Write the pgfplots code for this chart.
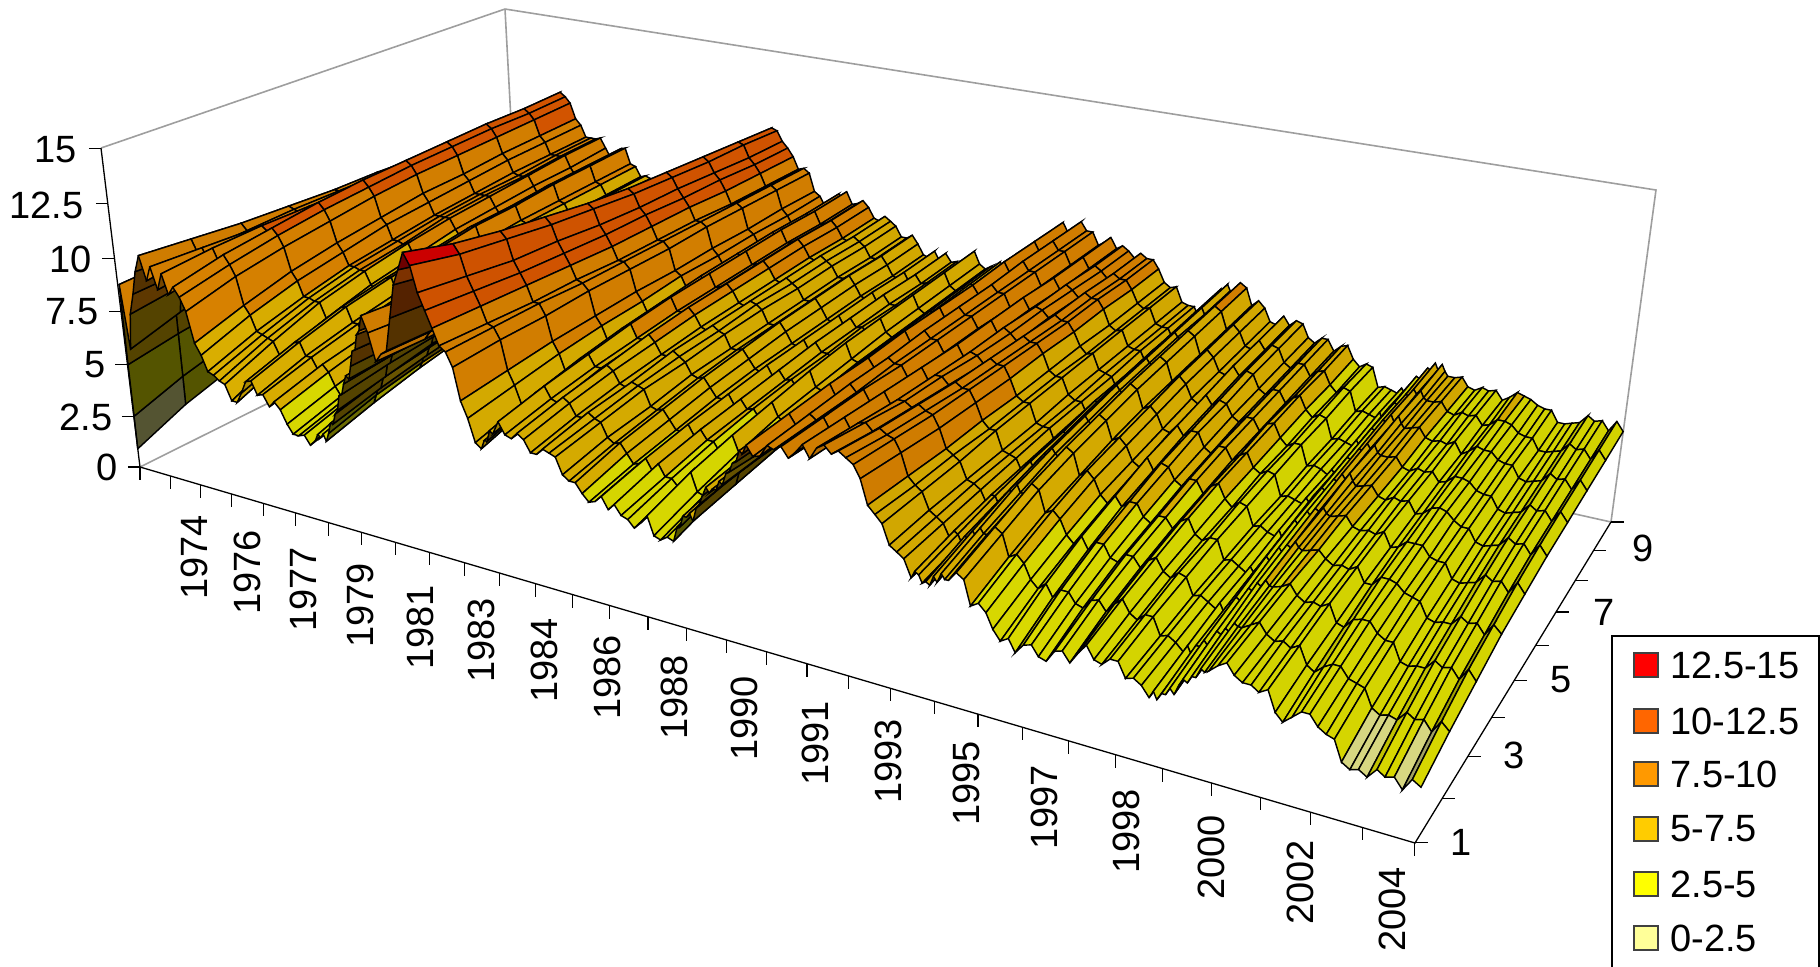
\documentclass[border=0pt]{standalone}
\usepackage{fontspec}
\setmainfont{Liberation Sans}
\usepackage{pgfplots}
\usepackage{pgfplotstable}
\pgfplotsset{compat=1.18}

% Yield curves: one row per date, one column per maturity in years.
\pgfplotstableread{
t m1 m2 m3 m4 m5 m6 m7 m8 m9 m10
1972.70 0.9 1.9 2.6 3.2 3.7 4.0 4.3 4.5 4.7 4.9
1972.71 2.5 3.3 3.9 4.3 4.7 5.0 5.2 5.4 5.5 5.6
1972.72 5.0 5.4 5.7 6.0 6.2 6.4 6.5 6.6 6.7 6.8
1972.735 7.5 7.6 7.7 7.8 7.9 7.9 8.0 8.0 8.0 8.1
1972.75 8.8 8.9 8.9 8.9 8.9 9.0 9.0 9.0 9.0 9.0
1972.87 5.8 6.5 7.1 7.5 7.8 8.1 8.2 8.4 8.5 8.6
1973.00 7.5 7.8 8.1 8.2 8.4 8.5 8.5 8.6 8.7 8.7
1973.17 8.5 8.6 8.7 8.8 8.9 8.9 8.9 9.0 9.0 9.0
1973.33 9.6 9.5 9.5 9.4 9.4 9.4 9.3 9.3 9.3 9.3
1973.50 10.4 10.2 10.0 9.9 9.8 9.8 9.7 9.7 9.6 9.6
1973.67 9.3 9.6 9.7 9.8 9.8 9.8 9.8 9.8 9.8 9.8
1973.83 10.0 9.9 9.8 9.7 9.6 9.6 9.6 9.6 9.6 9.6
1974.00 9.0 9.3 9.5 9.6 9.7 9.8 9.8 9.8 9.8 9.8
1974.17 9.8 10.0 10.1 10.1 10.1 10.2 10.2 10.2 10.2 10.2
1974.33 8.9 9.4 9.9 10.2 10.3 10.4 10.5 10.5 10.6 10.6
1974.50 9.3 9.8 10.1 10.4 10.6 10.7 10.8 10.9 10.9 11.0
1974.67 8.9 9.4 9.8 10.1 10.3 10.5 10.6 10.7 10.7 10.8
1974.83 8.3 8.9 9.3 9.6 9.9 10.1 10.2 10.3 10.4 10.5
1975.00 6.9 7.6 8.2 8.6 8.9 9.2 9.3 9.5 9.6 9.7
1975.17 6.4 7.2 7.8 8.2 8.6 8.8 9.0 9.2 9.3 9.4
1975.33 5.7 6.5 7.1 7.6 7.9 8.2 8.4 8.6 8.7 8.8
1975.50 5.6 6.4 7.1 7.6 7.9 8.2 8.4 8.5 8.7 8.8
1975.67 5.4 6.3 7.0 7.5 7.8 8.2 8.4 8.5 8.7 8.8
1975.83 5.3 6.2 7.0 7.5 7.9 8.2 8.4 8.6 8.8 8.9
1976.00 4.6 5.6 6.3 6.9 7.3 7.7 7.9 8.1 8.2 8.4
1976.17 4.6 5.5 6.1 6.6 7.0 7.3 7.5 7.6 7.8 7.9
1976.33 5.1 5.9 6.5 6.9 7.3 7.5 7.7 7.9 8.0 8.1
1976.50 5.7 6.4 7.0 7.4 7.7 8.0 8.1 8.3 8.4 8.5
1976.67 5.8 6.5 7.1 7.5 7.8 8.1 8.2 8.4 8.5 8.6
1976.83 5.2 5.9 6.4 6.8 7.1 7.3 7.5 7.6 7.7 7.8
1977.00 5.3 5.9 6.4 6.8 7.0 7.2 7.4 7.5 7.6 7.7
1977.17 4.8 5.4 5.9 6.3 6.5 6.7 6.9 7.0 7.1 7.2
1977.33 5.1 5.7 6.1 6.4 6.7 6.9 7.0 7.1 7.2 7.3
1977.50 4.8 5.4 5.9 6.3 6.5 6.7 6.9 7.0 7.1 7.2
1977.67 4.2 4.8 5.3 5.6 5.9 6.1 6.2 6.3 6.4 6.5
1977.83 3.8 4.4 4.8 5.1 5.4 5.6 5.7 5.8 5.9 6.0
1978.00 3.8 4.4 4.8 5.1 5.4 5.6 5.7 5.8 5.9 6.0
1978.17 3.9 4.5 4.9 5.2 5.5 5.7 5.8 5.9 6.0 6.1
1978.33 3.5 4.1 4.6 5.0 5.2 5.4 5.6 5.7 5.8 5.9
1978.50 3.8 4.5 5.0 5.4 5.7 6.0 6.1 6.3 6.4 6.5
1978.58 4.1 4.8 5.3 5.7 6.0 6.2 6.4 6.5 6.6 6.7
1978.67 4.0 4.6 5.1 5.5 5.7 5.9 6.1 6.2 6.3 6.4
1978.75 4.2 4.8 5.3 5.6 5.9 6.1 6.2 6.4 6.5 6.6
1978.83 3.9 4.5 5.0 5.4 5.6 5.8 6.0 6.1 6.2 6.3
1978.92 4.3 4.9 5.3 5.6 5.9 6.0 6.2 6.3 6.4 6.5
1979.00 4.8 5.3 5.8 6.1 6.3 6.5 6.6 6.7 6.8 6.9
1979.08 4.8 5.3 5.7 6.0 6.2 6.4 6.5 6.6 6.7 6.8
1979.17 5.3 5.8 6.1 6.4 6.6 6.8 6.9 7.0 7.0 7.1
1979.25 5.5 5.9 6.3 6.5 6.7 6.9 7.0 7.0 7.1 7.1
1979.33 6.2 6.5 6.8 7.0 7.1 7.3 7.3 7.4 7.4 7.5
1979.42 6.3 6.6 6.8 7.0 7.2 7.3 7.4 7.4 7.5 7.5
1979.50 6.8 7.0 7.2 7.3 7.4 7.5 7.6 7.6 7.7 7.7
1979.58 7.2 7.4 7.5 7.6 7.6 7.7 7.7 7.8 7.8 7.8
1979.67 7.1 7.2 7.2 7.3 7.3 7.3 7.4 7.4 7.4 7.4
1979.75 7.7 7.7 7.7 7.7 7.7 7.7 7.7 7.7 7.7 7.7
1979.83 8.4 8.3 8.2 8.2 8.1 8.1 8.1 8.0 8.0 8.0
1979.92 8.5 8.4 8.3 8.2 8.1 8.1 8.1 8.0 8.0 8.0
1980.00 9.2 9.0 8.8 8.7 8.6 8.6 8.5 8.5 8.4 8.4
1980.08 9.4 9.2 9.0 8.9 8.8 8.8 8.7 8.7 8.6 8.6
1980.17 10.1 9.9 9.7 9.6 9.5 9.5 9.4 9.4 9.3 9.3
1980.33 9.4 9.2 9.0 8.9 8.8 8.7 8.6 8.6 8.5 8.5
1980.50 8.2 8.1 8.1 8.0 8.0 8.0 7.9 7.9 7.9 7.9
1980.67 8.6 8.5 8.5 8.4 8.4 8.4 8.3 8.3 8.3 8.3
1980.83 8.8 8.7 8.7 8.6 8.6 8.6 8.5 8.5 8.5 8.5
1981.00 10.3 10.1 9.9 9.8 9.7 9.6 9.5 9.5 9.4 9.4
1981.17 11.8 11.4 11.1 10.8 10.6 10.5 10.4 10.3 10.3 10.2
1981.33 12.5 12.0 11.6 11.3 11.1 10.9 10.8 10.7 10.6 10.5
1981.50 13.3 12.7 12.3 12.0 11.7 11.5 11.4 11.3 11.2 11.1
1981.67 12.8 12.3 12.0 11.7 11.5 11.3 11.2 11.1 11.1 11.0
1981.83 11.7 11.4 11.1 11.0 10.8 10.7 10.7 10.6 10.5 10.5
1982.00 11.0 10.8 10.6 10.5 10.4 10.4 10.3 10.3 10.2 10.2
1982.17 10.3 10.2 10.1 10.0 9.9 9.9 9.9 9.8 9.8 9.8
1982.33 9.6 9.5 9.4 9.4 9.3 9.3 9.3 9.2 9.2 9.2
1982.50 9.4 9.4 9.4 9.3 9.3 9.3 9.3 9.3 9.3 9.3
1982.67 8.8 8.9 8.9 9.0 9.0 9.0 9.1 9.1 9.1 9.1
1982.83 7.4 7.6 7.8 7.9 8.0 8.0 8.1 8.1 8.2 8.2
1983.00 6.7 7.0 7.3 7.5 7.6 7.8 7.8 7.9 7.9 8.0
1983.17 5.7 6.2 6.5 6.8 7.0 7.2 7.3 7.4 7.4 7.5
1983.33 5.5 6.1 6.5 6.8 7.1 7.3 7.4 7.5 7.6 7.7
1983.42 5.9 6.4 6.8 7.1 7.3 7.5 7.6 7.7 7.8 7.9
1983.50 5.9 6.5 6.9 7.2 7.5 7.7 7.8 7.9 8.0 8.1
1983.58 6.4 6.9 7.3 7.6 7.8 8.0 8.1 8.2 8.2 8.3
1983.67 6.3 6.8 7.2 7.5 7.7 7.8 8.0 8.0 8.1 8.2
1983.83 6.9 7.3 7.6 7.9 8.1 8.2 8.3 8.4 8.4 8.5
1984.00 6.4 6.8 7.1 7.3 7.5 7.6 7.7 7.8 7.8 7.9
1984.17 6.3 6.7 7.1 7.3 7.5 7.7 7.8 7.9 7.9 8.0
1984.33 6.6 7.0 7.3 7.6 7.8 7.9 8.0 8.1 8.1 8.2
1984.50 6.4 6.8 7.1 7.3 7.5 7.6 7.7 7.8 7.8 7.9
1984.67 5.9 6.3 6.6 6.8 7.0 7.1 7.2 7.3 7.3 7.4
1984.83 5.9 6.3 6.5 6.8 6.9 7.0 7.1 7.2 7.2 7.3
1985.00 6.2 6.6 6.8 7.1 7.2 7.3 7.4 7.5 7.5 7.6
1985.17 6.1 6.4 6.7 6.9 7.0 7.2 7.2 7.3 7.3 7.4
1985.33 6.0 6.3 6.6 6.7 6.9 7.0 7.0 7.1 7.1 7.2
1985.50 5.3 5.7 5.9 6.2 6.3 6.4 6.5 6.6 6.6 6.7
1985.67 5.1 5.5 5.8 6.1 6.3 6.4 6.5 6.6 6.6 6.7
1985.83 5.1 5.6 5.9 6.2 6.4 6.6 6.7 6.8 6.8 6.9
1986.00 4.7 5.2 5.5 5.8 6.0 6.2 6.3 6.4 6.4 6.5
1986.17 4.4 4.8 5.1 5.4 5.6 5.7 5.8 5.9 5.9 6.0
1986.33 4.5 4.9 5.1 5.4 5.5 5.6 5.7 5.8 5.8 5.9
1986.50 4.8 5.2 5.5 5.7 5.9 6.0 6.1 6.2 6.2 6.3
1986.67 4.3 4.7 5.0 5.2 5.4 5.5 5.6 5.7 5.7 5.8
1986.83 4.6 5.1 5.4 5.6 5.8 6.0 6.1 6.2 6.2 6.3
1987.00 4.2 4.6 5.0 5.2 5.4 5.6 5.7 5.8 5.8 5.9
1987.17 4.1 4.6 5.0 5.3 5.5 5.6 5.8 5.8 5.9 6.0
1987.33 3.8 4.3 4.6 4.9 5.1 5.3 5.4 5.5 5.5 5.6
1987.50 4.1 4.6 5.1 5.4 5.6 5.8 5.9 6.0 6.1 6.2
1987.67 4.5 5.1 5.5 5.8 6.1 6.3 6.4 6.5 6.6 6.7
1987.83 3.7 4.3 4.8 5.2 5.4 5.6 5.8 5.9 6.0 6.1
1988.00 3.6 4.2 4.7 5.0 5.3 5.5 5.6 5.7 5.8 5.9
1988.17 3.8 4.4 4.9 5.2 5.5 5.7 5.8 5.9 6.0 6.1
1988.33 3.7 4.3 4.8 5.1 5.4 5.6 5.7 5.8 5.9 6.0
1988.42 4.3 4.9 5.3 5.6 5.8 6.0 6.1 6.2 6.3 6.4
1988.50 4.4 4.9 5.3 5.6 5.8 5.9 6.1 6.1 6.2 6.3
1988.58 4.9 5.3 5.6 5.9 6.0 6.2 6.3 6.3 6.4 6.5
1988.67 4.9 5.3 5.5 5.8 5.9 6.0 6.1 6.2 6.2 6.3
1988.75 5.1 5.4 5.7 5.9 6.0 6.1 6.2 6.3 6.3 6.4
1988.83 4.8 5.1 5.4 5.6 5.7 5.9 5.9 6.0 6.0 6.1
1988.92 5.4 5.7 5.9 6.0 6.1 6.2 6.3 6.3 6.4 6.4
1989.00 5.6 5.8 6.0 6.1 6.2 6.3 6.4 6.4 6.5 6.5
1989.08 6.0 6.2 6.3 6.4 6.5 6.6 6.6 6.7 6.7 6.7
1989.17 6.4 6.6 6.7 6.8 6.9 7.0 7.0 7.0 7.1 7.1
1989.25 6.2 6.3 6.4 6.5 6.6 6.7 6.7 6.7 6.8 6.8
1989.33 6.4 6.5 6.6 6.7 6.8 6.8 6.8 6.9 6.9 6.9
1989.42 6.4 6.5 6.5 6.6 6.6 6.7 6.7 6.7 6.7 6.7
1989.50 6.8 6.9 6.9 7.0 7.0 7.0 7.1 7.1 7.1 7.1
1989.58 6.7 6.8 6.8 6.8 6.8 6.9 6.9 6.9 6.9 6.9
1989.67 7.2 7.2 7.2 7.1 7.1 7.1 7.1 7.1 7.1 7.1
1989.75 7.3 7.2 7.2 7.2 7.2 7.2 7.1 7.1 7.1 7.1
1989.83 7.7 7.6 7.6 7.5 7.5 7.5 7.4 7.4 7.4 7.4
1989.92 7.8 7.8 7.8 7.8 7.8 7.8 7.8 7.8 7.8 7.8
1990.00 8.3 8.3 8.3 8.4 8.4 8.4 8.4 8.4 8.4 8.4
1990.08 8.2 8.3 8.3 8.4 8.4 8.5 8.5 8.5 8.5 8.5
1990.17 8.6 8.7 8.8 8.8 8.9 8.9 8.9 9.0 9.0 9.0
1990.33 8.2 8.3 8.3 8.4 8.4 8.4 8.5 8.5 8.5 8.5
1990.50 8.3 8.4 8.5 8.6 8.7 8.7 8.7 8.8 8.8 8.8
1990.67 8.8 8.9 9.0 9.0 9.1 9.1 9.1 9.2 9.2 9.2
1990.83 8.7 8.7 8.7 8.8 8.8 8.8 8.8 8.8 8.8 8.8
1991.00 8.9 8.9 8.9 8.8 8.8 8.8 8.8 8.8 8.8 8.8
1991.17 8.5 8.4 8.4 8.3 8.3 8.3 8.2 8.2 8.2 8.2
1991.33 8.8 8.7 8.6 8.6 8.5 8.5 8.5 8.4 8.4 8.4
1991.50 9.2 9.1 9.0 8.9 8.8 8.8 8.8 8.7 8.7 8.7
1991.67 8.7 8.6 8.5 8.4 8.3 8.3 8.3 8.2 8.2 8.2
1991.83 9.2 9.0 8.8 8.7 8.6 8.6 8.5 8.5 8.4 8.4
1992.00 9.4 9.1 8.8 8.7 8.5 8.4 8.4 8.3 8.2 8.2
1992.17 9.1 8.8 8.6 8.4 8.2 8.1 8.1 8.0 7.9 7.9
1992.33 9.3 9.0 8.8 8.6 8.5 8.4 8.3 8.3 8.2 8.2
1992.50 9.1 8.8 8.6 8.4 8.3 8.2 8.1 8.1 8.0 8.0
1992.67 8.9 8.7 8.5 8.4 8.3 8.2 8.1 8.1 8.0 8.0
1992.83 8.4 8.2 8.0 7.9 7.8 7.8 7.7 7.7 7.6 7.6
1993.00 7.4 7.3 7.2 7.2 7.1 7.1 7.1 7.0 7.0 7.0
1993.17 7.1 7.0 7.0 6.9 6.9 6.9 6.8 6.8 6.8 6.8
1993.33 6.8 6.8 6.8 6.9 6.9 6.9 6.9 6.9 6.9 6.9
1993.50 6.0 6.1 6.1 6.1 6.1 6.2 6.2 6.2 6.2 6.2
1993.67 5.8 5.9 6.0 6.0 6.0 6.0 6.1 6.1 6.1 6.1
1993.83 5.6 5.7 5.8 5.9 6.0 6.0 6.0 6.1 6.1 6.1
1994.00 4.9 5.1 5.2 5.3 5.3 5.4 5.4 5.5 5.5 5.5
1994.08 5.2 5.5 5.7 5.8 5.9 6.0 6.0 6.1 6.1 6.2
1994.17 5.1 5.4 5.7 5.9 6.0 6.2 6.2 6.3 6.3 6.4
1994.25 4.8 5.1 5.4 5.7 5.8 6.0 6.1 6.1 6.2 6.2
1994.33 4.9 5.4 5.7 6.0 6.2 6.4 6.5 6.6 6.6 6.7
1994.42 4.8 5.3 5.6 5.9 6.2 6.3 6.4 6.5 6.6 6.6
1994.50 5.2 5.7 6.1 6.4 6.6 6.8 6.9 7.0 7.1 7.2
1994.58 5.0 5.5 5.9 6.2 6.5 6.6 6.8 6.8 6.9 7.0
1994.67 5.4 5.9 6.4 6.7 6.9 7.1 7.2 7.3 7.4 7.5
1994.75 5.2 5.7 6.1 6.5 6.7 6.9 7.0 7.1 7.1 7.2
1994.83 5.2 5.7 6.1 6.4 6.6 6.8 6.9 7.0 7.1 7.2
1995.00 5.6 6.1 6.6 6.9 7.1 7.3 7.4 7.5 7.6 7.7
1995.17 5.4 5.9 6.4 6.7 6.9 7.1 7.2 7.3 7.4 7.5
1995.33 4.4 5.0 5.5 5.8 6.1 6.3 6.4 6.5 6.6 6.7
1995.50 4.6 5.2 5.7 6.1 6.3 6.5 6.7 6.8 6.9 7.0
1995.67 4.3 4.9 5.4 5.8 6.0 6.2 6.4 6.5 6.6 6.7
1995.83 3.7 4.3 4.8 5.2 5.4 5.6 5.8 5.9 6.0 6.1
1996.00 3.3 4.0 4.5 4.9 5.2 5.5 5.6 5.8 5.9 6.0
1996.17 3.5 4.3 4.9 5.3 5.7 5.9 6.1 6.3 6.4 6.5
1996.33 3.0 3.8 4.4 4.9 5.2 5.5 5.7 5.9 6.0 6.1
1996.50 3.4 4.2 4.8 5.2 5.6 5.8 6.0 6.2 6.3 6.4
1996.67 3.5 4.2 4.8 5.2 5.5 5.8 5.9 6.1 6.2 6.3
1996.83 3.1 3.8 4.3 4.7 5.0 5.2 5.4 5.5 5.6 5.7
1997.00 3.0 3.7 4.2 4.5 4.8 5.0 5.2 5.3 5.4 5.5
1997.17 3.5 4.1 4.6 4.9 5.2 5.4 5.5 5.6 5.7 5.8
1997.33 3.6 4.2 4.6 4.9 5.2 5.4 5.5 5.6 5.7 5.8
1997.50 3.2 3.8 4.2 4.5 4.7 4.9 5.0 5.1 5.2 5.3
1997.67 3.7 4.2 4.6 4.9 5.1 5.2 5.4 5.4 5.5 5.6
1997.83 4.1 4.5 4.8 5.1 5.3 5.4 5.5 5.6 5.6 5.7
1998.00 3.6 4.0 4.3 4.5 4.7 4.8 4.9 5.0 5.0 5.1
1998.17 3.5 3.8 4.1 4.3 4.4 4.6 4.6 4.7 4.7 4.8
1998.33 3.8 4.1 4.4 4.5 4.7 4.8 4.8 4.9 5.0 5.0
1998.50 3.8 4.1 4.3 4.5 4.6 4.7 4.8 4.8 4.9 4.9
1998.67 3.2 3.4 3.6 3.7 3.8 3.8 3.9 3.9 4.0 4.0
1998.83 3.3 3.5 3.7 3.8 3.9 3.9 4.0 4.0 4.1 4.1
1999.00 3.1 3.3 3.5 3.6 3.7 3.8 3.9 3.9 4.0 4.0
1999.17 2.7 3.0 3.3 3.4 3.6 3.7 3.7 3.8 3.9 3.9
1999.25 3.0 3.3 3.6 3.7 3.9 4.0 4.0 4.1 4.2 4.2
1999.33 2.7 3.0 3.3 3.5 3.6 3.8 3.8 3.9 3.9 4.0
1999.42 3.0 3.4 3.6 3.8 4.0 4.2 4.2 4.3 4.4 4.4
1999.50 3.0 3.4 3.7 4.0 4.2 4.3 4.4 4.5 4.5 4.6
1999.58 3.3 3.7 4.0 4.3 4.5 4.6 4.7 4.8 4.8 4.9
1999.67 3.1 3.5 3.9 4.1 4.3 4.5 4.6 4.7 4.7 4.8
1999.75 3.5 3.9 4.2 4.5 4.7 4.8 4.9 5.0 5.0 5.1
1999.83 3.8 4.2 4.5 4.8 5.0 5.1 5.2 5.3 5.3 5.4
1999.92 3.7 4.1 4.4 4.6 4.8 5.0 5.1 5.1 5.2 5.3
2000.00 4.0 4.4 4.8 5.0 5.2 5.4 5.5 5.6 5.6 5.7
2000.08 4.0 4.3 4.7 4.9 5.1 5.2 5.3 5.3 5.4 5.4
2000.17 4.4 4.7 5.0 5.2 5.3 5.5 5.5 5.6 5.6 5.7
2000.25 4.3 4.6 4.8 5.0 5.1 5.2 5.2 5.3 5.3 5.4
2000.33 4.4 4.6 4.8 4.9 5.0 5.0 5.1 5.1 5.2 5.2
2000.50 4.7 4.8 4.9 5.0 5.1 5.1 5.1 5.2 5.2 5.2
2000.67 4.9 5.0 5.1 5.1 5.2 5.2 5.2 5.3 5.3 5.3
2000.83 4.5 4.6 4.7 4.8 4.8 4.8 4.8 4.9 4.9 4.9
2001.00 4.3 4.4 4.5 4.6 4.7 4.7 4.7 4.8 4.8 4.8
2001.17 4.3 4.5 4.6 4.7 4.8 4.9 4.9 4.9 5.0 5.0
2001.33 4.1 4.3 4.5 4.6 4.7 4.8 4.8 4.8 4.9 4.9
2001.50 4.3 4.5 4.7 4.8 4.9 4.9 4.9 5.0 5.0 5.0
2001.67 3.5 3.8 4.0 4.2 4.3 4.4 4.5 4.5 4.6 4.6
2001.83 3.2 3.6 3.9 4.2 4.4 4.5 4.6 4.7 4.7 4.8
2002.00 3.5 3.9 4.3 4.6 4.7 4.8 4.9 5.0 5.0 5.1
2002.17 3.8 4.1 4.4 4.6 4.7 4.9 4.9 4.9 5.0 5.0
2002.33 3.8 4.1 4.4 4.5 4.7 4.8 4.8 4.9 4.9 4.9
2002.50 3.4 3.7 4.0 4.2 4.3 4.5 4.5 4.6 4.6 4.7
2002.67 3.2 3.6 3.8 4.1 4.2 4.3 4.4 4.5 4.5 4.6
2002.83 3.1 3.5 3.8 4.0 4.2 4.3 4.4 4.5 4.5 4.6
2003.00 2.3 2.8 3.1 3.4 3.6 3.8 3.9 4.0 4.0 4.1
2003.17 2.1 2.6 3.0 3.3 3.5 3.7 3.8 3.9 4.0 4.1
2003.33 2.2 2.7 3.1 3.4 3.6 3.8 3.9 4.0 4.1 4.2
2003.50 2.0 2.6 3.1 3.4 3.7 3.9 4.0 4.1 4.2 4.3
2003.67 2.4 3.0 3.5 3.8 4.1 4.3 4.4 4.5 4.6 4.7
2003.83 2.2 2.8 3.3 3.6 3.9 4.1 4.2 4.3 4.4 4.5
2004.00 2.3 2.9 3.4 3.7 4.0 4.2 4.3 4.4 4.5 4.6
2004.17 1.9 2.5 3.0 3.3 3.6 3.8 3.9 4.0 4.1 4.2
2004.33 2.4 3.0 3.5 3.8 4.1 4.3 4.4 4.5 4.6 4.7
2004.50 2.2 2.7 3.1 3.5 3.7 3.9 4.0 4.1 4.2 4.3
}\yields

\pgfplotstablegetrowsof{\yields}
\edef\nrows{\pgfplotsretval}
\pgfmathtruncatemacro\lastrow{\nrows-1}

% Central projection of the unit box (date, maturity, yield) onto the page,
% in units of 0.5pt measured from the top left corner.
\def\projectpoint#1#2#3{%
  \pgfmathsetmacro\den{1-0.2493*#1+0.2129*#2-0.053*#3}%
  \pgfmathsetmacro\px{(140+922.2*#1+490.1*#2-44.4*#3)/\den}%
  \pgfmathsetmacro\py{(467+165.8*#1-129.8*#2-326.8*#3)/\den}}

% Table cells as macros, for access to neighbouring dates and maturities.
\foreach \j in {1,...,10}{%
  \edef\col{m\j}%
  \expandafter\pgfplotstableforeachcolumnelement\expandafter{\col}\of\yields\as\cell{%
    \expandafter\xdef\csname R\j.\pgfplotstablerow\endcsname{\cell}}%
}
\pgfplotstableforeachcolumnelement{t}\of\yields\as\cell{%
  \expandafter\xdef\csname T.\pgfplotstablerow\endcsname{\cell}}

% Mesh vertices, longest maturity first and earliest date first, so that
% nearer facets are painted over farther ones. Each facet gets the colour of
% its yield band, darkened where the surface rises steeply with the date.
\foreach \j in {10,...,1}{%
  \gdef\scan{}%
  \pgfmathtruncatemacro\jn{max(\j-1,1)}%
  \pgfmathsetmacro\vv{(\j-1)/9}%
  \foreach \i in {0,...,\lastrow}{%
    \pgfmathtruncatemacro\inx{min(\i+1,\lastrow)}%
    \edef\rr{\csname R\j.\i\endcsname}%
    \edef\rb{\csname R\j.\inx\endcsname}%
    \edef\rc{\csname R\jn.\i\endcsname}%
    \edef\rd{\csname R\jn.\inx\endcsname}%
    \edef\ta{\csname T.\i\endcsname}%
    \edef\tb{\csname T.\inx\endcsname}%
    \pgfmathsetmacro\uu{(\ta-1972.7)/31.8}%
    \pgfmathsetmacro\ww{\rr/15}%
    \projectpoint{\uu}{\vv}{\ww}%
    \def\colr{0}\def\colg{0}\def\colb{0}%
    \ifnum\i<\lastrow\relax\ifnum\j>1\relax
      \pgfmathtruncatemacro\band{min(5,floor((\rr+\rb+\rc+\rd)/10))}%
      \ifcase\band
        \def\br{1}\def\bg{1}\def\bb{0.6}%
      \or\def\br{1}\def\bg{1}\def\bb{0}%
      \or\def\br{1}\def\bg{0.8}\def\bb{0}%
      \or\def\br{1}\def\bg{0.6}\def\bb{0}%
      \or\def\br{1}\def\bg{0.4}\def\bb{0}%
      \or\def\br{1}\def\bg{0}\def\bb{0}%
      \fi
      \pgfmathsetmacro\slope{(\rb-\rr)/(\tb-\ta)}%
      \pgfmathsetmacro\lit{max(0.33,min(0.92,0.82-0.16*max(0,\slope-1.8)+0.04*(\rr-\rc)))}%
      \pgfmathsetmacro\colr{\br*\lit}%
      \pgfmathsetmacro\colg{\bg*\lit}%
      \pgfmathsetmacro\colb{\bb*\lit}%
    \fi\fi
    \xdef\scan{\scan(\px,\py,\rr) [rgb=\colr,\colg,\colb] }%
  }%
  \expandafter\xdef\csname scan\j\endcsname{\scan}%
}
\edef\allcoords{\csname scan10\endcsname\csname scan9\endcsname\csname scan8\endcsname
  \csname scan7\endcsname\csname scan6\endcsname\csname scan5\endcsname
  \csname scan4\endcsname\csname scan3\endcsname\csname scan2\endcsname\csname scan1\endcsname}

% Tick marks on the three front axes.
\gdef\ticks{}
\foreach \k in {0,...,32}{%
  \pgfmathsetmacro\uu{\k/32}\projectpoint{\uu}{0}{0}%
  \pgfmathsetmacro\qy{\py+13}%
  \xdef\ticks{\ticks(\px,\py,0) (\px,\qy,0) (nan,nan,nan) }}
\foreach \k in {0,...,9}{%
  \pgfmathsetmacro\vv{\k/9}\projectpoint{1}{\vv}{0}%
  \pgfmathsetmacro\qx{\px+13}%
  \xdef\ticks{\ticks(\px,\py,0) (\qx,\py,0) (nan,nan,nan) }}
\foreach \k in {0,...,6}{%
  \pgfmathsetmacro\ww{\k/6}\projectpoint{0}{0}{\ww}%
  \pgfmathsetmacro\qx{\px-12}%
  \xdef\ticks{\ticks(\qx,\py,0) (\px,\py,0) (nan,nan,nan) }}

\pgfplotsset{
  surface style/.style={surf, shader=flat corner, draw=black, line width=0.72pt,
    mesh/color input=explicit, point meta=explicit symbolic,
    mesh/cols=\nrows, mesh/ordering=x varies, mesh/check=false, z buffer=none},
}
\tikzset{
  lab/.style={font=\fontsize{19}{22}\selectfont, inner sep=0pt, text=black},
  yearlab/.style={lab, rotate=90, anchor=east},
  zlab/.style={lab, anchor=east},
  mlab/.style={lab, anchor=center},
  leglab/.style={lab, anchor=west},
  swatch/.style={draw=black!75, line width=0.7pt},
}

\begin{document}
\begin{tikzpicture}
\path[use as bounding box] (0,0) rectangle (910pt,483.5pt);
\begin{axis}[at={(0,0)}, anchor=south west, scale only axis,
  width=910pt, height=483.5pt,
  xmin=0, xmax=1820, ymin=0, ymax=967, zmin=0, zmax=15,
  y dir=reverse, view={0}{90}, hide axis, unbounded coords=jump]

  % back walls and floor
  \addplot3[color=black!38, line width=0.8pt, line join=miter]
    coordinates {(101,148,0) (505,9,0) (1656,190,0) (1611,522,0) (519.5,278,0) (140,467,0)
      (nan,nan,nan) (505,9,0) (519.5,278,0)};

  % the yield surface
  \edef\drawsurface{\noexpand\addplot3[surface style] coordinates {\allcoords};}
  \drawsurface

  % front axes
  \addplot3[color=black, line width=0.65pt]
    coordinates {(101,148,0) (140,467,0) (1415,843,0) (1611,522,0)};
  \edef\drawticks{\noexpand\addplot3[color=black, line width=0.55pt] coordinates {\ticks};}
  \drawticks

  % yield axis labels
  \node[zlab] at (axis cs:77,150,0) {15};
  \node[zlab] at (axis cs:84,205,0) {12.5};
  \node[zlab] at (axis cs:92,259,0) {10};
  \node[zlab] at (axis cs:99,312,0) {7.5};
  \node[zlab] at (axis cs:106,365,0) {5};
  \node[zlab] at (axis cs:113,417,0) {2.5};
  \node[zlab] at (axis cs:118,467,0) {0};

  % date axis labels
  \node[yearlab] at (axis cs:194,515,0) {1974};
  \node[yearlab] at (axis cs:247,530,0) {1976};
  \node[yearlab] at (axis cs:303,547,0) {1977};
  \node[yearlab] at (axis cs:360,563,0) {1979};
  \node[yearlab] at (axis cs:420,585,0) {1981};
  \node[yearlab] at (axis cs:481,598,0) {1983};
  \node[yearlab] at (axis cs:544,618,0) {1984};
  \node[yearlab] at (axis cs:607,635,0) {1986};
  \node[yearlab] at (axis cs:674,655,0) {1988};
  \node[yearlab] at (axis cs:744,676,0) {1990};
  \node[yearlab] at (axis cs:815,701,0) {1991};
  \node[yearlab] at (axis cs:888,719,0) {1993};
  \node[yearlab] at (axis cs:966,741,0) {1995};
  \node[yearlab] at (axis cs:1044.5,765,0) {1997};
  \node[yearlab] at (axis cs:1126,789,0) {1998};
  \node[yearlab] at (axis cs:1211,815,0) {2000};
  \node[yearlab] at (axis cs:1300.5,840,0) {2002};
  \node[yearlab] at (axis cs:1392.5,867,0) {2004};

  % maturity axis labels
  \node[mlab] at (axis cs:1461,842,0) {1};
  \node[mlab] at (axis cs:1514,755,0) {3};
  \node[mlab] at (axis cs:1561,680,0) {5};
  \node[mlab] at (axis cs:1604.5,612,0) {7};
  \node[mlab] at (axis cs:1643,548,0) {9};

  % legend
  \draw[black, line width=0.65pt] (axis cs:1612,967,0) -- (axis cs:1612,636,0) -- (axis cs:1819,636,0) -- (axis cs:1819,967,0);
  \filldraw[swatch, fill={rgb,1:red,1;green,0;blue,0}]     (axis cs:1634,653,0) rectangle (axis cs:1658,677,0);
  \filldraw[swatch, fill={rgb,1:red,1;green,0.4;blue,0}]   (axis cs:1634,709,0) rectangle (axis cs:1658,733,0);
  \filldraw[swatch, fill={rgb,1:red,1;green,0.6;blue,0}]   (axis cs:1634,762,0) rectangle (axis cs:1658,786,0);
  \filldraw[swatch, fill={rgb,1:red,1;green,0.8;blue,0}]   (axis cs:1634,817,0) rectangle (axis cs:1658,841,0);
  \filldraw[swatch, fill={rgb,1:red,1;green,1;blue,0}]     (axis cs:1634,872,0) rectangle (axis cs:1658,896,0);
  \filldraw[swatch, fill={rgb,1:red,1;green,1;blue,0.6}]   (axis cs:1634,926,0) rectangle (axis cs:1658,950,0);
  \node[leglab] at (axis cs:1670,665,0) {12.5-15};
  \node[leglab] at (axis cs:1670,721,0) {10-12.5};
  \node[leglab] at (axis cs:1670,774,0) {7.5-10};
  \node[leglab] at (axis cs:1670,829,0) {5-7.5};
  \node[leglab] at (axis cs:1670,884,0) {2.5-5};
  \node[leglab] at (axis cs:1670,938,0) {0-2.5};
\end{axis}
\end{tikzpicture}
\end{document}
